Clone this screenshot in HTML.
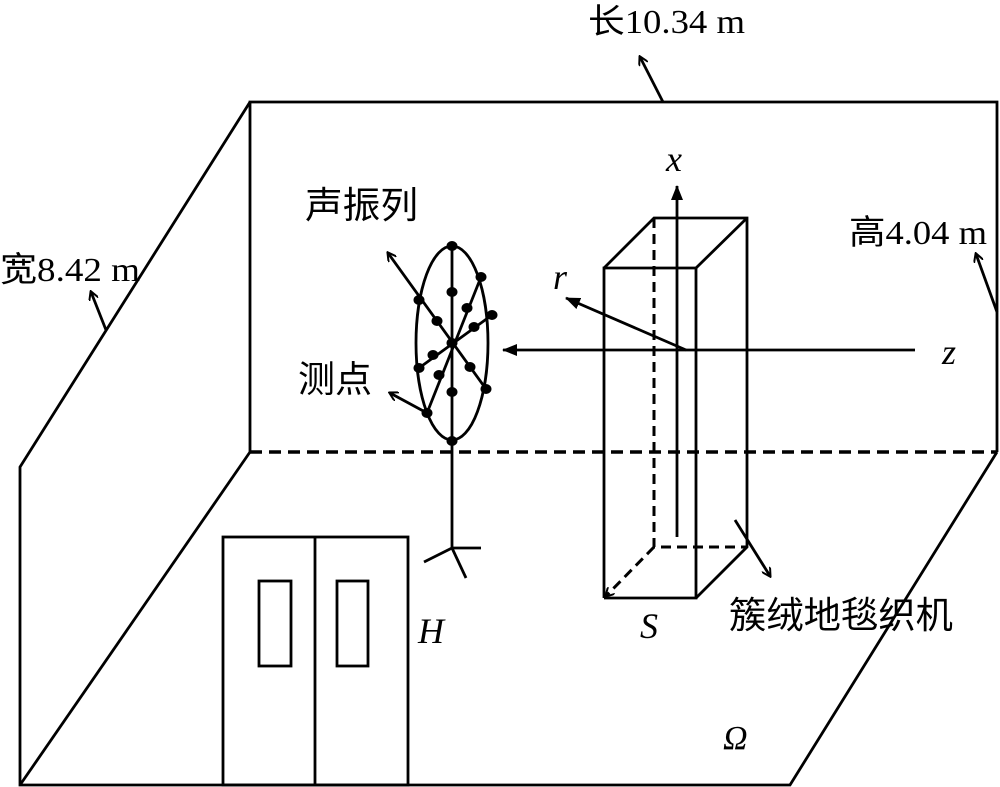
<!DOCTYPE html>
<html><head><meta charset="utf-8"><style>
html,body{margin:0;padding:0;background:#fff;}
svg{display:block;}
text{font-family:"Liberation Serif","Noto Serif CJK SC","Noto Sans CJK SC",serif;fill:#000;}
.cj{font-family:"Liberation Serif","Noto Sans CJK SC",sans-serif;}
</style></head><body>
<svg width="1000" height="787" viewBox="0 0 1000 787" xmlns="http://www.w3.org/2000/svg">
<defs>
<marker id="a" markerWidth="10" markerHeight="10" refX="8" refY="5" orient="auto" markerUnits="userSpaceOnUse"><path d="M0,0 L9,5 L0,10" fill="none" stroke="#000" stroke-width="2"/></marker>
<marker id="f" markerWidth="16" markerHeight="12" refX="14" refY="6" orient="auto" markerUnits="userSpaceOnUse"><path d="M0,0 L15,6 L0,12 Z" fill="#000"/></marker>
</defs>
<g stroke="#000" stroke-width="2.8" fill="none">
<polyline points="250,452 250,102 997,102 997,452"/>
<polyline points="250,102 20,467 20,785 790,785 997,452"/>
<line x1="250" y1="452" x2="20" y2="785"/>
<line x1="250" y1="452" x2="997" y2="452" stroke-dasharray="12,7" stroke-width="3.5"/>
<rect x="223" y="537" width="185" height="248"/>
<line x1="315" y1="537" x2="315" y2="785"/>
<rect x="259" y="581" width="32" height="85"/>
<rect x="337" y="581" width="31" height="85"/>
<line x1="663" y1="102" x2="640" y2="57" marker-end="url(#a)"/>
<line x1="997" y1="312" x2="976" y2="254" marker-end="url(#a)"/>
<line x1="106" y1="330" x2="91" y2="292" marker-end="url(#a)"/>
<polyline points="604,598 604,268 696,268 696,598 604,598"/>
<polyline points="604,268 654,218 747,218 747,547 696,598"/>
<line x1="696" y1="268" x2="747" y2="218"/>
<polyline points="654,218 654,547 747,547" stroke-dasharray="10,6" stroke-width="3"/>
<line x1="654" y1="547" x2="606" y2="596" stroke-dasharray="10,6" stroke-width="3" marker-end="url(#a)"/>
<line x1="735" y1="520" x2="770" y2="576" marker-end="url(#a)"/>
<line x1="677" y1="537" x2="677" y2="186" marker-end="url(#f)"/>
<line x1="915" y1="350" x2="503" y2="350" marker-end="url(#f)"/>
<line x1="686" y1="350" x2="566" y2="298" marker-end="url(#f)"/>
<ellipse cx="452" cy="343" rx="36" ry="97"/>
<line x1="452" y1="246" x2="452" y2="548"/>
<line x1="481" y1="277" x2="427" y2="413"/>
<line x1="492" y1="315" x2="419" y2="368"/>
<line x1="486" y1="389" x2="388" y2="253" marker-end="url(#a)"/>
<line x1="427" y1="413" x2="390" y2="393" marker-end="url(#a)"/>
<line x1="452" y1="548" x2="481" y2="548"/>
<line x1="452" y1="548" x2="424" y2="562"/>
<line x1="452" y1="548" x2="466" y2="578"/>
</g>
<g fill="#000">
<ellipse cx="452" cy="246" rx="5.5" ry="5"/><ellipse cx="481" cy="277" rx="5.5" ry="5"/>
<ellipse cx="419" cy="300" rx="5.5" ry="5"/><ellipse cx="452" cy="292" rx="5.5" ry="5"/>
<ellipse cx="467" cy="308" rx="5.5" ry="5"/><ellipse cx="492" cy="315" rx="5.5" ry="5"/>
<ellipse cx="437" cy="321" rx="5.5" ry="5"/><ellipse cx="474" cy="327" rx="5.5" ry="5"/>
<ellipse cx="452" cy="343" rx="5.5" ry="5"/><ellipse cx="433" cy="355" rx="5.5" ry="5"/>
<ellipse cx="419" cy="368" rx="5.5" ry="5"/><ellipse cx="470" cy="367" rx="5.5" ry="5"/>
<ellipse cx="439" cy="375" rx="5.5" ry="5"/><ellipse cx="452" cy="392" rx="5.5" ry="5"/>
<ellipse cx="486" cy="389" rx="5.5" ry="5"/><ellipse cx="427" cy="413" rx="5.5" ry="5"/>
<ellipse cx="452" cy="441" rx="5.5" ry="5"/>
</g>
<text x="588" y="33" font-size="34" class="cj" textLength="157" lengthAdjust="spacingAndGlyphs">长10.34 m</text>
<text x="849" y="244" font-size="34" class="cj" textLength="138" lengthAdjust="spacingAndGlyphs">高4.04 m</text>
<text x="0" y="281" font-size="34" class="cj" textLength="140" lengthAdjust="spacingAndGlyphs">宽8.42 m</text>
<text x="305" y="218" font-size="37" class="cj" textLength="113" lengthAdjust="spacingAndGlyphs">声振列</text>
<text x="298" y="392" font-size="37" class="cj" textLength="74" lengthAdjust="spacingAndGlyphs">测点</text>
<text x="729" y="628" font-size="37" class="cj" textLength="224" lengthAdjust="spacingAndGlyphs">簇绒地毯织机</text>
<text x="666" y="171" font-size="36" font-style="italic">x</text>
<text x="553" y="289" font-size="36" font-style="italic">r</text>
<text x="942" y="364" font-size="36" font-style="italic">z</text>
<text x="418" y="643" font-size="36" font-style="italic">H</text>
<text x="640" y="638" font-size="36" font-style="italic">S</text>
<text x="723" y="749" font-size="34" font-style="italic">Ω</text>
</svg>
</body></html>
